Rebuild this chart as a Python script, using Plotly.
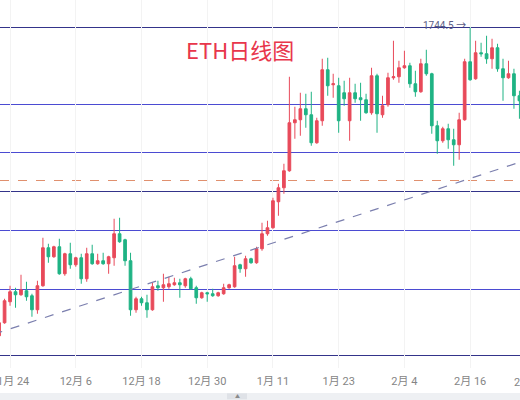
import pandas as pd
import plotly.graph_objects as go

dates = pd.date_range("2022-11-22", periods=97, freq="D")

open_ = [1128, 1154, 1196, 1216, 1210, 1218, 1208, 1180, 1228, 1304,
         1286, 1306, 1252, 1292, 1270, 1284, 1242, 1292, 1272, 1278,
         1272, 1284, 1332, 1320, 1278, 1180, 1202, 1194, 1180, 1228,
         1224, 1226, 1230, 1234, 1228, 1242, 1224, 1204, 1214, 1212,
         1208, 1212, 1224, 1226, 1270, 1262, 1282, 1274, 1302, 1332,
         1344, 1396, 1424, 1458, 1554, 1560, 1582, 1570, 1514, 1558,
         1660, 1630, 1628, 1614, 1558, 1614, 1604, 1600, 1574, 1648,
         1570, 1590, 1644, 1646, 1664, 1668, 1632, 1616, 1672, 1652,
         1548, 1518, 1542, 1520, 1510, 1560, 1676, 1642, 1694, 1692,
         1682, 1704, 1662, 1644, 1652, 1608, 1594]
high = [1162, 1202, 1228, 1224, 1250, 1236, 1212, 1238, 1324, 1312,
        1308, 1322, 1294, 1314, 1286, 1292, 1304, 1310, 1292, 1294,
        1288, 1362, 1364, 1322, 1294, 1206, 1206, 1210, 1234, 1238,
        1252, 1246, 1244, 1242, 1244, 1246, 1228, 1216, 1216, 1222,
        1216, 1232, 1232, 1286, 1272, 1288, 1284, 1306, 1354, 1358,
        1404, 1432, 1472, 1646, 1586, 1614, 1612, 1616, 1564, 1682,
        1684, 1652, 1644, 1638, 1644, 1632, 1634, 1612, 1664, 1652,
        1608, 1654, 1718, 1678, 1698, 1674, 1658, 1682, 1700, 1654,
        1558, 1546, 1552, 1542, 1574, 1682, 1744.5, 1718, 1714, 1728,
        1722, 1712, 1682, 1678, 1662, 1618, 1662]
low = [1118, 1152, 1188, 1184, 1208, 1198, 1166, 1172, 1226, 1274,
       1284, 1250, 1248, 1262, 1266, 1232, 1236, 1270, 1270, 1270,
       1252, 1268, 1314, 1268, 1168, 1174, 1188, 1164, 1178, 1218,
       1196, 1222, 1228, 1204, 1224, 1220, 1192, 1202, 1196, 1206,
       1206, 1210, 1222, 1224, 1254, 1246, 1272, 1272, 1298, 1328,
       1342, 1368, 1412, 1456, 1522, 1528, 1544, 1508, 1512, 1548,
       1608, 1604, 1534, 1588, 1518, 1594, 1558, 1572, 1570, 1534,
       1564, 1586, 1640, 1634, 1662, 1624, 1606, 1614, 1648, 1532,
       1492, 1514, 1502, 1468, 1480, 1558, 1638, 1640, 1686, 1672,
       1662, 1656, 1598, 1642, 1582, 1562, 1590]
close = [1154, 1198, 1216, 1210, 1220, 1206, 1180, 1228, 1304, 1286,
         1306, 1252, 1292, 1270, 1284, 1242, 1292, 1272, 1278, 1272,
         1286, 1332, 1316, 1278, 1180, 1202, 1194, 1180, 1226, 1224,
         1230, 1232, 1234, 1230, 1242, 1222, 1204, 1214, 1212, 1208,
         1214, 1224, 1230, 1268, 1262, 1282, 1274, 1302, 1332, 1344,
         1398, 1424, 1458, 1554, 1560, 1582, 1570, 1514, 1558, 1660,
         1628, 1632, 1558, 1602, 1614, 1602, 1600, 1574, 1648, 1572,
         1588, 1644, 1646, 1664, 1668, 1632, 1616, 1672, 1652, 1548,
         1518, 1542, 1520, 1510, 1560, 1676, 1640, 1694, 1692, 1682,
         1704, 1662, 1644, 1652, 1608, 1598, 1652]

solid_levels = [1744.5, 1590.5, 1494.5, 1416.5, 1338.5, 1220.5, 1088.5]
solid_colors = ["#34348a", "#4b4bd2", "#4b4bd2", "#34348a", "#4b4bd2", "#4b4bd2", "#34348a"]
dashed_level = 1438.5
trend_dates = ["2022-11-21", "2023-02-27"]
trend_prices = [1131, 1482]

tick_dates = ["2022-11-24", "2022-12-06", "2022-12-18", "2022-12-30",
              "2023-01-11", "2023-01-23", "2023-02-04", "2023-02-16"]
tick_text = ["11月 24", "12月 6", "12月 18", "12月 30", "1月 11", "1月 23",
             "2月 4", "2月 16"]
edge_tick_text = "2月 28"

fig = go.Figure()
fig.add_trace(go.Candlestick(
    x=dates, open=open_, high=high, low=low, close=close,
    increasing=dict(line=dict(color="#e84a5a", width=1), fillcolor="#e84a5a"),
    decreasing=dict(line=dict(color="#1fb384", width=1), fillcolor="#1fb384"),
    whiskerwidth=0, showlegend=False, hoverinfo="skip",
))
fig.add_trace(go.Scatter(
    x=trend_dates, y=trend_prices, mode="lines",
    line=dict(color="#7b7fae", width=1.2, dash="dash"),
    showlegend=False, hoverinfo="skip",
))

shapes = []
for lv, col in zip(solid_levels, solid_colors):
    shapes.append(dict(type="line", xref="paper", x0=0, x1=1, yref="y", y0=lv, y1=lv,
                       line=dict(color=col, width=1), layer="below"))
shapes.append(dict(type="line", xref="paper", x0=0, x1=1, yref="y", y0=dashed_level, y1=dashed_level,
                   line=dict(color="#e0906e", width=1, dash="dash"), layer="below"))
# bottom scrollbar strip
shapes.append(dict(type="rect", xref="paper", yref="paper", x0=0, x1=1, y0=-0.09, y1=-0.068,
                   fillcolor="#eef0f3", line=dict(width=0)))
shapes.append(dict(type="rect", xref="paper", yref="paper", x0=227/520, x1=247/520, y0=-0.085, y1=-0.069,
                   fillcolor="#dfe2e7", line=dict(width=0)))

fig.update_layout(
    width=520, height=400,
    margin=dict(l=0, r=0, t=0, b=32, autoexpand=False),
    paper_bgcolor="white", plot_bgcolor="white",
    shapes=shapes,
    font=dict(family="Roboto, Noto Sans CJK SC, sans-serif"),
    xaxis=dict(
        type="date",
        range=["2022-11-22 04:00", "2023-02-25 02:30"],
        rangeslider=dict(visible=False),
        tickvals=tick_dates, ticktext=tick_text,
        tickfont=dict(size=11, color="#858585"),
        ticklabeloverflow="allow", ticklabelstandoff=5, automargin=False,
        showgrid=True, gridcolor="#f3f3f3", gridwidth=1,
        zeroline=False, showline=False, ticks="",
    ),
    yaxis=dict(range=[1063.5, 1799.5], showgrid=False, showticklabels=False,
               zeroline=False, showline=False, ticks="", automargin=False),
    annotations=[
        dict(text="ETH日线图", xref="paper", yref="paper", x=240/520, y=1-49/368,
             xanchor="center", yanchor="middle",
             showarrow=False, font=dict(size=22, color="#e8364b",
                                        family="Noto Sans CJK SC, sans-serif")),
        dict(text="1744.5 →", xref="paper", yref="paper", x=444/520, y=1-25/368,
             xanchor="center", yanchor="middle",
             showarrow=False, font=dict(size=10, color="#5a5d85")),
        dict(text=edge_tick_text, xref="paper", yref="paper", x=530/520, y=1-383/368,
             xanchor="center", yanchor="middle",
             showarrow=False, font=dict(size=11, color="#858585")),
        dict(text="▲", xref="paper", yref="paper", x=237/520, y=-0.077,
             xanchor="center", yanchor="middle",
             showarrow=False, font=dict(size=5, color="#8a8a8a")),
    ],
)

fig.write_html("out.html", config={"displayModeBar": False},
               post_script="document.body.style.margin='0';document.body.style.overflow='hidden';")
